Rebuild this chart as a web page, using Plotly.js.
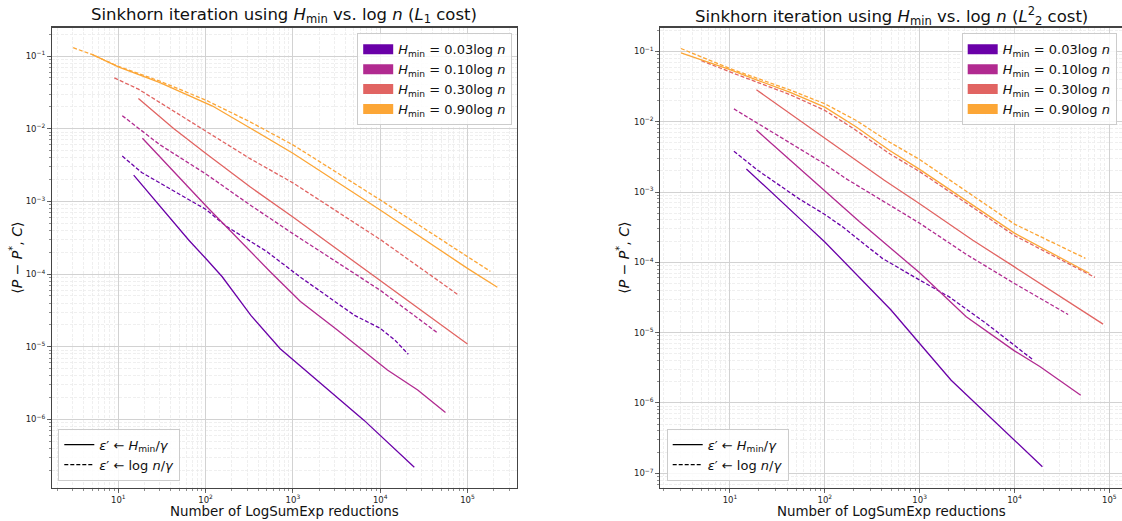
<!DOCTYPE html>
<html>
<head>
<meta charset="utf-8">
<script src="https://cdn.plot.ly/plotly-3.0.1.min.js"></script>
<style>html,body{margin:0;padding:0;background:#fff;}#chart{width:1122px;height:521px;}</style>
</head>
<body>
<div id="chart"></div>
<script>
// ---------- Data ----------
const levels = ['0.03', '0.10', '0.30', '0.90'];
const colors = ['#6a00a8', '#b12a90', '#e16462', '#fca636'];

// Left panel: L1 cost
const l1_s003_x = [15, 26, 64, 100, 155, 330, 715, 6500, 24600];
const l1_s003_y = [2.3e-3, 1.05e-3, 2.95e-4, 1.65e-4, 9.2e-5, 2.7e-5, 9.4e-6, 9.8e-7, 2.2e-7];
const l1_d003_x = [11.1, 18.5, 100, 175, 500, 1200, 5100, 10000, 14700, 21000];
const l1_d003_y = [4.2e-3, 2.5e-3, 7.8e-4, 4.5e-4, 2.05e-4, 9.2e-5, 2.7e-5, 1.8e-5, 1.24e-5, 7.9e-6];
const l1_s010_x = [18.9, 100, 550, 1220, 3230, 12100, 26900, 56000];
const l1_s010_y = [7.4e-3, 8.8e-4, 1.08e-4, 4.2e-5, 1.7e-5, 4.8e-6, 2.55e-6, 1.25e-6];
const l1_d010_x = [11.1, 30, 100, 320, 1000, 10000, 44600];
const l1_d010_y = [0.0151, 6.0e-3, 2.4e-3, 9.0e-4, 3.6e-4, 6.0e-5, 1.58e-5];
const l1_s030_x = [17, 43, 100, 320, 1000, 10000, 100000];
const l1_s030_y = [0.026, 0.0101, 4.6e-3, 1.6e-3, 6.1e-4, 8.2e-5, 1.09e-5];
const l1_d030_x = [9, 17, 100, 320, 1000, 10000, 78000];
const l1_d030_y = [0.050, 0.035, 9.3e-3, 3.9e-3, 1.8e-3, 3.0e-4, 5.2e-5];
const l1_s090_x = [5, 10, 30, 100, 120, 320, 1000, 10000, 100000, 220000];
const l1_s090_y = [0.105, 0.071, 0.043, 0.0224, 0.0205, 0.0103, 4.6e-3, 7.6e-4, 1.2e-4, 6.6e-5];
const l1_d090_x = [3.04, 5, 10, 30, 100, 320, 1000, 10000, 100000, 183000];
const l1_d090_y = [0.13, 0.105, 0.072, 0.045, 0.0248, 0.0125, 6.0e-3, 1.05e-3, 1.74e-4, 1.09e-4];

// Right panel: L2^2 cost
const l2_s003_x = [14.9, 30, 60, 100, 499, 1000, 2150, 19700];
const l2_s003_y = [2.13e-3, 8.7e-4, 3.7e-4, 1.95e-4, 2.1e-5, 7.0e-6, 2.1e-6, 1.24e-7];
const l2_d003_x = [11, 20, 53.6, 100, 154, 407, 1000, 2070, 5040, 15700];
const l2_d003_y = [3.8e-3, 2.0e-3, 8.0e-4, 4.8e-4, 3.2e-4, 1.13e-4, 5.6e-5, 3.2e-5, 1.35e-5, 4.1e-6];
const l2_s010_x = [19, 100, 231, 1000, 3100, 10000, 18500, 50000];
const l2_s010_y = [7.6e-3, 1.02e-3, 3.8e-4, 7.1e-5, 1.68e-5, 5.5e-6, 3.3e-6, 1.29e-6];
const l2_d010_x = [11, 100, 167, 1000, 3100, 10000, 36800];
const l2_d010_y = [0.0152, 2.5e-3, 1.55e-3, 3.6e-4, 1.3e-4, 5.0e-5, 1.81e-5];
const l2_s030_x = [19, 100, 424, 1000, 3640, 10000, 86000];
const l2_s030_y = [0.0285, 5.9e-3, 1.47e-3, 6.8e-4, 2.06e-4, 8.6e-5, 1.32e-5];
const l2_d030_x = [5, 10, 42.6, 100, 200, 483, 1000, 10000, 70600];
const l2_d030_y = [0.074, 0.051, 0.0244, 0.0145, 8.0e-3, 3.5e-3, 1.95e-3, 2.4e-4, 6.1e-5];
const l2_s090_x = [3.04, 10, 19, 42.6, 100, 215, 483, 1000, 10000, 61500];
const l2_s090_y = [0.095, 0.055, 0.0395, 0.0263, 0.0161, 8.4e-3, 3.9e-3, 2.1e-3, 2.6e-4, 7.0e-5];
const l2_d090_x = [3.04, 10, 42.6, 100, 215, 483, 1000, 10000, 56000];
const l2_d090_y = [0.11, 0.057, 0.0284, 0.018, 0.0104, 5.1e-3, 2.9e-3, 3.5e-4, 1.14e-4];

// Tick labels
const xTickVals = [1e1, 1e2, 1e3, 1e4, 1e5];
const xTickText = ['10<sup>1</sup>', '10<sup>2</sup>', '10<sup>3</sup>', '10<sup>4</sup>', '10<sup>5</sup>'];
const yTickValsL1 = [1e-1, 1e-2, 1e-3, 1e-4, 1e-5, 1e-6];
const yTickTextL1 = ['10<sup>−1</sup>', '10<sup>−2</sup>', '10<sup>−3</sup>', '10<sup>−4</sup>', '10<sup>−5</sup>', '10<sup>−6</sup>'];
const yTickValsL2 = [1e-1, 1e-2, 1e-3, 1e-4, 1e-5, 1e-6, 1e-7];
const yTickTextL2 = ['10<sup>−1</sup>', '10<sup>−2</sup>', '10<sup>−3</sup>', '10<sup>−4</sup>', '10<sup>−5</sup>', '10<sup>−6</sup>', '10<sup>−7</sup>'];

// Text
const titleL1 = 'Sinkhorn iteration using <i>H</i><sub>min</sub> vs. log <i>n</i> (<i>L</i><sub>1</sub> cost)';
const titleL2 = 'Sinkhorn iteration using <i>H</i><sub>min</sub> vs. log <i>n</i> (<i>L</i><sup>2</sup><sub>2</sub> cost)';
const xTitle = 'Number of LogSumExp reductions';
const yTitle = '⟨<i>P</i> − <i>P</i><sup>*</sup>, <i>C</i>⟩';
const styleLabels = ['<i>ε</i>′ ← <i>H</i><sub>min</sub>/<i>γ</i>', '<i>ε</i>′ ← log <i>n</i>/<i>γ</i>'];

// ---------- Build ----------
const FONT = 'DejaVu Sans, Liberation Sans, sans-serif';
const DASH = '4px,2px';
const LW = 1.3;

const panels = [
  {xa: 'x', ya: 'y', series: [
    [l1_s003_x, l1_s003_y, l1_d003_x, l1_d003_y],
    [l1_s010_x, l1_s010_y, l1_d010_x, l1_d010_y],
    [l1_s030_x, l1_s030_y, l1_d030_x, l1_d030_y],
    [l1_s090_x, l1_s090_y, l1_d090_x, l1_d090_y]], legA: 'legend', legB: 'legend2'},
  {xa: 'x2', ya: 'y2', series: [
    [l2_s003_x, l2_s003_y, l2_d003_x, l2_d003_y],
    [l2_s010_x, l2_s010_y, l2_d010_x, l2_d010_y],
    [l2_s030_x, l2_s030_y, l2_d030_x, l2_d030_y],
    [l2_s090_x, l2_s090_y, l2_d090_x, l2_d090_y]], legA: 'legend3', legB: 'legend4'}
];

const traces = [];
panels.forEach(p => {
  p.series.forEach((s, i) => {
    traces.push({type: 'scatter', mode: 'lines', x: s[0], y: s[1], xaxis: p.xa, yaxis: p.ya,
      line: {color: colors[i], width: LW}, showlegend: false, hoverinfo: 'skip'});
    traces.push({type: 'scatter', mode: 'lines', x: s[2], y: s[3], xaxis: p.xa, yaxis: p.ya,
      line: {color: colors[i], width: LW, dash: DASH}, showlegend: false, hoverinfo: 'skip'});
  });
  levels.forEach((lv, i) => {
    traces.push({type: 'scatter', mode: 'lines', x: [null], y: [null], xaxis: p.xa, yaxis: p.ya,
      line: {color: colors[i], width: 10}, name: '<i>H</i><sub>min</sub> = ' + lv + 'log <i>n</i>',
      showlegend: true, legend: p.legA, hoverinfo: 'skip'});
  });
  styleLabels.forEach((lab, j) => {
    traces.push({type: 'scatter', mode: 'lines', x: [null], y: [null], xaxis: p.xa, yaxis: p.ya,
      line: {color: '#000', width: 1.3, dash: j === 0 ? 'solid' : DASH}, name: lab,
      showlegend: true, legend: p.legB, hoverinfo: 'skip'});
  });
});

const W = 1122, H = 521;
const yDom = [1 - 488 / H, 1 - 27.5 / H];

function axisBase() {
  return {
    type: 'log', showline: true, mirror: true, linecolor: '#444', linewidth: 1.2,
    showgrid: true, gridcolor: '#d2d2d2', gridwidth: 1, zeroline: false,
    ticks: 'outside', ticklen: 3.5, tickwidth: 0.8, tickcolor: '#444',
    tickfont: {family: FONT, size: 8.5, color: '#222'},
    tickmode: 'array', automargin: false,
    minor: {dtick: 'D1', showgrid: true, gridcolor: '#ebebeb', griddash: '3px,1.5px', gridwidth: 0.8,
      ticks: 'outside', ticklen: 2, tickwidth: 0.6, tickcolor: '#444'}
  };
}

const xaxis = Object.assign(axisBase(), {domain: [51.7 / W, 516.7 / W], range: [0.237, 5.564],
  tickvals: xTickVals, ticktext: xTickText, anchor: 'y'});
const yaxis = Object.assign(axisBase(), {domain: yDom, range: [-6.942, -0.608],
  tickvals: yTickValsL1, ticktext: yTickTextL1, anchor: 'x'});
const xaxis2 = Object.assign(axisBase(), {domain: [660 / W, 1], range: [0.262, 5.134],
  tickvals: xTickVals, ticktext: xTickText, anchor: 'y2'});
const yaxis2 = Object.assign(axisBase(), {domain: yDom, range: [-7.21, -0.66],
  tickvals: yTickValsL2, ticktext: yTickTextL2, anchor: 'x2'});

function leg(x, y, xa, ya) {
  return {x: x, y: y, xanchor: xa, yanchor: ya, xref: 'paper', yref: 'paper',
    bgcolor: 'rgba(255,255,255,0.85)', bordercolor: '#cccccc', borderwidth: 1,
    font: {family: FONT, size: 13, color: '#111'}, itemwidth: 30, traceorder: 'normal'};
}

function ann(text, x, y, size, angle) {
  return {text: text, x: x, y: y, xref: 'paper', yref: 'paper', showarrow: false,
    xanchor: 'center', yanchor: 'middle', textangle: angle || 0,
    font: {family: FONT, size: size, color: '#111'}};
}

const layout = {
  width: W, height: H, margin: {l: 0, r: 0, t: 0, b: 0, pad: 0},
  paper_bgcolor: '#fff', plot_bgcolor: '#fff', showlegend: true,
  font: {family: FONT},
  xaxis: xaxis, yaxis: yaxis, xaxis2: xaxis2, yaxis2: yaxis2,
  legend: leg(512.2 / W, 1 - 33.3 / H, 'right', 'top'),
  legend2: leg(58.3 / W, 1 - 480.7 / H, 'left', 'bottom'),
  legend3: leg(1116.7 / W, 1 - 33.3 / H, 'right', 'top'),
  legend4: leg(666.7 / W, 1 - 480.7 / H, 'left', 'bottom'),
  annotations: [
    ann(titleL1, 284.2 / W, 1 - 16 / H, 16.5),
    ann(titleL2, 891 / W, 1 - 16 / H, 16.5),
    ann(xTitle, 284.2 / W, 1 - 511 / H, 13.4),
    ann(xTitle, 891 / W, 1 - 511 / H, 13.4),
    ann(yTitle, 16 / W, 1 - 257.7 / H, 14, -90),
    ann(yTitle, 623 / W, 1 - 257.7 / H, 14, -90)
  ]
};

Plotly.newPlot('chart', traces, layout, {displayModeBar: false, staticPlot: true});
</script>
</body>
</html>
